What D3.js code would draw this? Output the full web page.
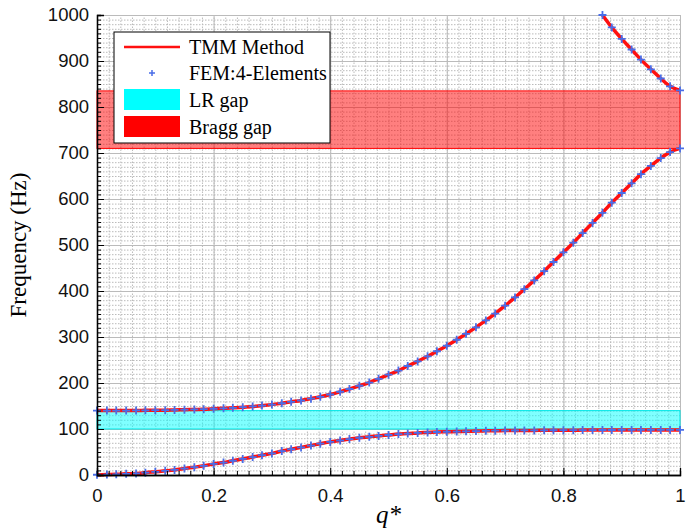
<!DOCTYPE html>
<html>
<head>
<meta charset="utf-8">
<script src="https://cdnjs.cloudflare.com/ajax/libs/d3/7.8.5/d3.min.js"></script>
<style>
  body { margin: 0; background: #fff; }
  .tick text { font-family: "Liberation Sans", Arial, sans-serif; font-size: 18.5px; fill: #111; }
  .grid line { stroke: #bbb; }
  .grid path { stroke: none; }
</style>
</head>
<body>
<div id="chart"></div>
<script>
// wavenumber samples shared by TMM line and FEM markers
var qValues = [0.000, 0.017, 0.033, 0.050, 0.067, 0.083, 0.100, 0.117, 0.133, 0.150,
  0.167, 0.183, 0.200, 0.217, 0.233, 0.250, 0.267, 0.283, 0.300, 0.317,
  0.333, 0.350, 0.367, 0.383, 0.400, 0.417, 0.433, 0.450, 0.467, 0.483,
  0.500, 0.517, 0.533, 0.550, 0.567, 0.583, 0.600, 0.617, 0.633, 0.650,
  0.667, 0.683, 0.700, 0.717, 0.733, 0.750, 0.767, 0.783, 0.800, 0.817,
  0.833, 0.850, 0.867, 0.883, 0.900, 0.917, 0.933, 0.950, 0.967, 0.983, 1.000];

var branch1 = [0.5, 1, 1.5, 2.5, 3.5, 5, 7, 9, 11, 14,
  17, 20, 24, 27, 31, 35, 39, 43, 47, 52,
  56, 60, 64, 68, 72, 75, 78, 81, 83, 85,
  87, 89, 90, 91.5, 92.5, 93.5, 94, 94.5, 95, 95.5,
  96, 96.3, 96.5, 96.7, 96.9, 97, 97.2, 97.3, 97.4, 97.5,
  97.6, 97.7, 97.8, 97.8, 97.9, 97.9, 98, 98, 98, 98, 98];

var branch2 = [140, 140, 140, 140, 140.3, 140.5, 141, 141, 141.5, 142,
  142.5, 143, 144, 145, 146, 147.5, 149, 151, 153, 156,
  159, 162, 166, 170, 175, 181, 187, 194, 201, 209,
  218, 227, 237, 247, 258, 269, 281, 294, 307, 321,
  336, 351, 368, 386, 404, 423, 443, 463, 484, 505,
  526, 548, 570, 592, 613, 634, 654, 672, 689, 702, 710];

// third branch only exists near the zone edge
var qBranch3 = [0.867, 0.883, 0.900, 0.917, 0.933, 0.950, 0.967, 0.983, 1.000];
var branch3 = [1000, 973, 948, 925, 903, 882, 862, 845, 836];

var lrGap = [100, 140];
var braggGap = [710, 835];

var xTicks = [0, 0.2, 0.4, 0.6, 0.8, 1];
var yTicks = [0, 100, 200, 300, 400, 500, 600, 700, 800, 900, 1000];
var legendLabels = ["TMM Method", "FEM:4-Elements", "LR gap", "Bragg gap"];

var margin = {top: 15, right: 13, bottom: 54, left: 97},
    width = 693 - margin.left - margin.right,
    height = 529 - margin.top - margin.bottom;

var xScale = d3.scaleLinear().domain([0, 1]).range([0, width]);
var yScale = d3.scaleLinear().domain([0, 1000]).range([height, 0]);

var svg = d3.select("#chart").append("svg")
    .attr("width", 693)
    .attr("height", 529)
  .append("g")
    .attr("transform", "translate(" + margin.left + "," + margin.top + ")");

// minor grid (dotted)
svg.append("g")
    .attr("class", "grid minor")
    .attr("transform", "translate(0," + height + ")")
    .call(d3.axisBottom(xScale).ticks(50).tickSize(-height).tickFormat(""))
    .selectAll("line").attr("stroke-dasharray", "1.5,1.5").attr("stroke", "#c4c4c4");
svg.append("g")
    .attr("class", "grid minor")
    .call(d3.axisLeft(yScale).ticks(100).tickSize(-width).tickFormat(""))
    .selectAll("line").attr("stroke-dasharray", "1.5,1.5").attr("stroke", "#c4c4c4");

// major grid
svg.append("g")
    .attr("class", "grid")
    .attr("transform", "translate(0," + height + ")")
    .call(d3.axisBottom(xScale).tickValues(xTicks).tickSize(-height).tickFormat(""))
    .selectAll("line").attr("stroke", "#d0d0d0");
svg.append("g")
    .attr("class", "grid")
    .call(d3.axisLeft(yScale).tickValues(yTicks).tickSize(-width).tickFormat(""))
    .selectAll("line").attr("stroke", "#d0d0d0");

// band gaps
svg.append("rect")
    .attr("x", xScale(0)).attr("width", xScale(1) - xScale(0))
    .attr("y", yScale(lrGap[1])).attr("height", yScale(lrGap[0]) - yScale(lrGap[1]))
    .attr("fill", "rgba(0,255,255,0.5)").attr("stroke", "#00e8e8").attr("stroke-width", 1);
svg.append("rect")
    .attr("x", xScale(0)).attr("width", xScale(1) - xScale(0))
    .attr("y", yScale(braggGap[1])).attr("height", yScale(braggGap[0]) - yScale(braggGap[1]))
    .attr("fill", "rgba(255,0,0,0.5)").attr("stroke", "#ff0000").attr("stroke-width", 1);

var line = d3.line()
    .x(function(d) { return xScale(d[0]); })
    .y(function(d) { return yScale(d[1]); })
    .curve(d3.curveMonotoneX);

var branches = [
  d3.zip(qValues, branch1),
  d3.zip(qValues, branch2),
  d3.zip(qBranch3, branch3)
];

svg.selectAll(".tmm")
    .data(branches)
  .enter().append("path")
    .attr("class", "tmm")
    .attr("d", line)
    .attr("fill", "none")
    .attr("stroke", "#ff1010")
    .attr("stroke-width", 3.5);

var fem = svg.append("g");
branches.forEach(function(b) {
  fem.selectAll(null)
      .data(b)
    .enter().append("path")
      .attr("transform", function(d) { return "translate(" + xScale(d[0]) + "," + yScale(d[1]) + ")"; })
      .attr("d", "M-4,0H4M0,-4V4")
      .attr("stroke", "#4a6ee8")
      .attr("stroke-width", 1.8);
});

// axes, ticks pointing inward
var xAxis = svg.append("g")
    .attr("transform", "translate(0," + height + ")");
xAxis.call(d3.axisBottom(xScale).ticks(50).tickSize(-4).tickFormat(""));
xAxis.append("g").call(d3.axisBottom(xScale).tickValues(xTicks).tickSize(-7).tickPadding(14)
    .tickFormat(d3.format("")));
xAxis.selectAll("path").attr("stroke", "#000");
xAxis.selectAll("line").attr("stroke", "#000");

var yAxis = svg.append("g");
yAxis.call(d3.axisLeft(yScale).ticks(100).tickSize(-4).tickFormat(""));
yAxis.append("g").call(d3.axisLeft(yScale).tickValues(yTicks).tickSize(-7).tickPadding(8)
    .tickFormat(d3.format("d")));
yAxis.selectAll("path").attr("stroke", "#000");
yAxis.selectAll("line").attr("stroke", "#000");
yAxis.selectAll(".domain").attr("stroke-width", 1.3);
xAxis.selectAll(".domain").attr("stroke-width", 1.3);

// axis titles
svg.append("text")
    .attr("transform", "translate(-71," + (height / 2) + ") rotate(-90)")
    .attr("text-anchor", "middle")
    .style("font-family", "'Liberation Serif', 'Times New Roman', serif")
    .style("font-size", "23px")
    .text("Frequency (Hz)");
svg.append("text")
    .attr("x", width / 2)
    .attr("y", height + 48)
    .attr("text-anchor", "middle")
    .style("font-family", "'Liberation Serif', 'Times New Roman', serif")
    .style("font-size", "25px")
    .style("font-style", "italic")
    .text("q*");

// legend
var legend = svg.append("g").attr("transform", "translate(17,17)");
legend.append("rect")
    .attr("width", 216).attr("height", 111)
    .attr("fill", "#fff").attr("stroke", "#000").attr("stroke-width", 1);
var rowY = [15, 41, 68, 95];
legend.append("line")
    .attr("x1", 10).attr("x2", 66).attr("y1", rowY[0]).attr("y2", rowY[0])
    .attr("stroke", "#ff1010").attr("stroke-width", 2.5);
legend.append("path")
    .attr("transform", "translate(38," + rowY[1] + ")")
    .attr("d", "M-3,0H3M0,-3V3")
    .attr("stroke", "#4a6ee8").attr("stroke-width", 1.5);
legend.append("rect")
    .attr("x", 10).attr("y", rowY[2] - 11).attr("width", 56).attr("height", 21)
    .attr("fill", "#00ffff");
legend.append("rect")
    .attr("x", 10).attr("y", rowY[3] - 11).attr("width", 56).attr("height", 21)
    .attr("fill", "#ff0000");
legend.selectAll(".lbl")
    .data(legendLabels)
  .enter().append("text")
    .attr("x", 75)
    .attr("y", function(d, i) { return rowY[i] + 7; })
    .style("font-family", "'Liberation Serif', 'Times New Roman', serif")
    .style("font-size", "20px")
    .text(function(d) { return d; });
</script>
</body>
</html>
